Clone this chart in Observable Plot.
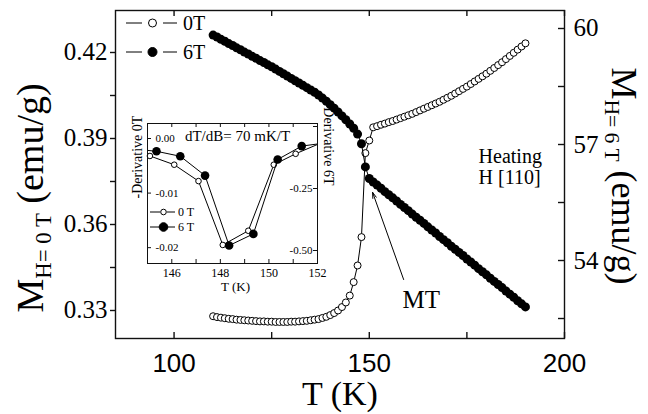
<!DOCTYPE html>
<html><head><meta charset="utf-8">
<script src="https://cdn.jsdelivr.net/npm/d3@7"></script>
<script src="https://cdn.jsdelivr.net/npm/@observablehq/plot@0.6"></script>
<style>
html,body{margin:0;padding:0;background:#fff;}
#chart{position:relative;width:648px;height:414px;overflow:hidden;background:#fff;}
#chart svg{position:absolute;left:0;top:0;}
</style></head><body><div id="chart"></div>
<script>
// ---------- DATA ----------
const temps0 = [110,111,112,113,114,115,116,117,118,119,120,121,122,123,124,125,126,127,128,129,130,131,132,133,134,135,136,137,138,139,140,141,142,143,144,145,146,147,148,149,150,151,152,153,154,155,156,157,158,159,160,161,162,163,164,165,166,167,168,169,170,171,172,173,174,175,176,177,178,179,180,181,182,183,184,185,186,187,188,189,190];
const mag0T = [0.3280,0.3277,0.3275,0.3273,0.3271,0.3270,0.3268,0.3267,0.3266,0.3265,0.3264,0.3263,0.3262,0.3262,0.3261,0.3261,0.3260,0.3260,0.3260,0.3260,0.3261,0.3261,0.3262,0.3263,0.3264,0.3266,0.3268,0.3270,0.3274,0.3278,0.3284,0.3291,0.3300,0.3312,0.3328,0.3352,0.3399,0.3457,0.3556,0.3849,0.3893,0.3939,0.3943,0.3948,0.3952,0.3957,0.3961,0.3966,0.3971,0.3976,0.3981,0.3986,0.3992,0.3998,0.4004,0.4010,0.4016,0.4022,0.4028,0.4035,0.4042,0.4049,0.4057,0.4065,0.4073,0.4081,0.4090,0.4099,0.4108,0.4117,0.4126,0.4136,0.4146,0.4156,0.4166,0.4177,0.4188,0.4199,0.4210,0.4221,0.4232];
const temps6 = [110,111,112,113,114,115,116,117,118,119,120,121,122,123,124,125,126,127,128,129,130,131,132,133,134,135,136,137,138,139,140,141,142,143,144,145,146,147,148,149,150,151,152,153,154,155,156,157,158,159,160,161,162,163,164,165,166,167,168,169,170,171,172,173,174,175,176,177,178,179,180,181,182,183,184,185,186,187,188,189,190];
const mag6T = [59.83,59.78,59.72,59.67,59.61,59.56,59.50,59.45,59.39,59.34,59.28,59.23,59.17,59.12,59.06,59.01,58.95,58.89,58.83,58.77,58.71,58.65,58.59,58.53,58.47,58.41,58.35,58.28,58.20,58.12,58.03,57.94,57.84,57.74,57.64,57.53,57.42,57.27,57.02,56.42,56.12,56.03,55.95,55.87,55.78,55.70,55.62,55.54,55.45,55.37,55.29,55.20,55.12,55.04,54.96,54.87,54.79,54.71,54.62,54.54,54.46,54.37,54.29,54.21,54.13,54.04,53.96,53.88,53.79,53.71,53.63,53.54,53.46,53.38,53.30,53.21,53.13,53.05,52.96,52.88,52.80];

const insetT0 = [144.1,145.1,146.1,147.1,148.1,149.15,150.2,151.1,152.1];
const insetD0 = [-0.0028,-0.0032,-0.0048,-0.0078,-0.0195,-0.0169,-0.0048,-0.0028,-0.0009];
const insetT6 = [144.37,145.37,146.35,147.37,148.36,149.36,150.36,151.35,152.35];
const insetD6 = [-0.090,-0.100,-0.120,-0.198,-0.480,-0.433,-0.133,-0.079,-0.066];

const xTickLabels = [100,150,200];
const xTicksAll = [100,125,150,175,200];
const leftTickLabels = [0.33,0.36,0.39,0.42];
const leftMinor = [0.345,0.375,0.405];
const rightTickLabels = [54,57,60];
const rightTicksAll = [52.5,54,55.5,57,58.5,60];
const insetXLabels = [146,148,150,152];
const insetXTicks = [145,146,147,148,149,150,151,152];
const insetLeftLabels = [0,-0.01,-0.02];
const insetRightLabels = [-0.25,-0.5];
const insetRightTicks = [0,-0.25,-0.5];

const seriesLabels = ["0T","6T"];
const insetSeriesLabels = ["0 T","6 T"];
const annotMT = [{text:"MT", t:163.3, m:0.3310}];
const annotHeating = [{text:"Heating\nH [110]", t:178.0, m:0.3740}];
const annotArrow = [{t1:158.8, m1:0.3408, t2:150.85, m2:0.3712}];

// ---------- LAYOUT ----------
const W = 648, H = 414;
const serif = "'Liberation Serif','Times New Roman',serif";
const sans = "'Liberation Sans',Arial,sans-serif";
const M = {marginLeft:115, marginRight:84, marginTop:10, marginBottom:76};
const iW = W - M.marginLeft - M.marginRight, iH = H - M.marginTop - M.marginBottom;
const IM = {marginLeft:147, marginRight:331, marginTop:123, marginBottom:151};
const jW = W - IM.marginLeft - IM.marginRight, jH = H - IM.marginTop - IM.marginBottom;
const ink = "#111";
const baseStyle = {background:"transparent", fontFamily:serif, color:"#000", overflow:"visible"};

const data0 = temps0.map((t,i)=>({t, m:mag0T[i]}));
const data6 = temps6.map((t,i)=>({t, m:mag6T[i]}));
const in0 = insetT0.map((t,i)=>({t, d:insetD0[i]}));
const in6 = insetT6.map((t,i)=>({t, d:insetD6[i]}));

const chart = document.getElementById("chart");

// main plot, 0 T (left axis)
const p1 = Plot.plot({
  width:W, height:H, ...M, style:baseStyle,
  x:{domain:[85,200]}, y:{domain:[0.32023,0.43465]},
  marks:[
    Plot.frame({stroke:ink, strokeWidth:1.4}),
    Plot.axisY(leftTickLabels, {anchor:"left", tickSize:5, tickPadding:3, tickFormat:d=>d.toFixed(2), fontSize:25, fontFamily:serif, label:null, stroke:ink, strokeWidth:1.4}),
    Plot.axisY(leftMinor, {anchor:"left", tickSize:5, tickFormat:()=> "", label:null, stroke:ink, strokeWidth:1.4}),
    Plot.axisX(xTickLabels, {anchor:"bottom", tickSize:0, tickPadding:15, fontSize:26, fontFamily:sans, label:null}),
    Plot.tickX(xTicksAll, {x:d=>d, insetTop:iH-6, stroke:ink, strokeWidth:1.4}),
    Plot.tickX(xTicksAll, {x:d=>d, insetBottom:iH-6, stroke:ink, strokeWidth:1.4}),
    Plot.line(data0, {x:"t", y:"m", stroke:"#000", strokeWidth:1}),
    Plot.dot(data0, {x:"t", y:"m", r:3.5, fill:"#fff", stroke:"#000", strokeWidth:1}),
    Plot.text(annotMT, {x:"t", y:"m", text:"text", fontSize:25, textAnchor:"middle", lineAnchor:"bottom", fontFamily:serif, fill:"#000"}),
    Plot.text(annotHeating, {x:"t", y:"m", text:"text", fontSize:20, textAnchor:"start", lineAnchor:"bottom", lineHeight:1.05, fontFamily:serif, fill:"#000"}),
    Plot.arrow(annotArrow, {x1:"t1", y1:"m1", x2:"t2", y2:"m2", headLength:9, headAngle:35, stroke:"#000", strokeWidth:1})
  ]
});
chart.appendChild(p1);

// main plot, 6 T (right axis)
const p2 = Plot.plot({
  width:W, height:H, ...M, style:baseStyle,
  x:{domain:[85,200], axis:null}, y:{domain:[51.983,60.4655]},
  marks:[
    Plot.axisY(rightTickLabels, {anchor:"right", tickSize:0, tickPadding:9, tickFormat:d=>String(d), fontSize:25, fontFamily:serif, label:null}),
    Plot.tickY(rightTicksAll, {y:d=>d, insetLeft:iW-6, stroke:ink, strokeWidth:1.4}),
    Plot.line(data6, {x:"t", y:"m", stroke:"#000", strokeWidth:1}),
    Plot.dot(data6, {x:"t", y:"m", r:4.5, fill:"#000", stroke:"none"})
  ]
});
chart.appendChild(p2);

// inset, 0 T (left axis)
const ip1 = Plot.plot({
  width:W, height:H, ...IM, style:baseStyle,
  x:{domain:[145,152]}, y:{domain:[-0.0229,0.00275]},
  marks:[
    Plot.frame({fill:"#fff", stroke:"none"}),
    Plot.axisY(insetLeftLabels, {anchor:"left", tickSize:0, tickPadding:0, dx:8, textAnchor:"start", tickFormat:d=>d.toFixed(2), fontSize:11, fontFamily:serif, label:null}),
    Plot.tickY(insetLeftLabels, {y:d=>d, insetRight:jW-4, stroke:ink}),
    Plot.axisX(insetXLabels, {anchor:"bottom", tickSize:0, tickPadding:5, fontSize:12, fontFamily:serif, label:null}),
    Plot.tickX(insetXTicks, {x:d=>d, insetTop:jH-4, stroke:ink}),
    Plot.tickX(insetXTicks, {x:d=>d, insetBottom:jH-4, stroke:ink}),
    Plot.line(in0, {x:"t", y:"d", stroke:"#000", strokeWidth:1, clip:true}),
    Plot.dot(in0, {filter:d=>d.t>=145 && d.t<=152, x:"t", y:"d", r:2.8, fill:"#fff", stroke:"#000", strokeWidth:1}),
    Plot.text(["-Derivative 0T"], {frameAnchor:"left", rotate:-90, dx:-10, dy:5, fontSize:14, fontFamily:serif, fill:"#000"}),
    Plot.text(["dT/dB= 70 mK/T"], {frameAnchor:"top", dx:5, dy:17, lineAnchor:"bottom", fontSize:15, fontFamily:serif, fill:"#000"}),
    Plot.text(["T (K)"], {frameAnchor:"bottom", dx:3, dy:27, lineAnchor:"bottom", fontSize:13, fontFamily:serif, fill:"#000"})
  ]
});
chart.appendChild(ip1);

// inset, 6 T (right axis)
const ip2 = Plot.plot({
  width:W, height:H, ...IM, style:baseStyle,
  x:{domain:[145,152], axis:null}, y:{domain:[-0.5524,0.0121]},
  marks:[
    Plot.axisY(insetRightLabels, {anchor:"right", tickSize:0, tickPadding:0, dx:-5, textAnchor:"end", tickFormat:d=>d.toFixed(2), fontSize:11, fontFamily:serif, label:null}),
    Plot.tickY(insetRightTicks, {y:d=>d, insetLeft:jW-4, stroke:ink}),
    Plot.line(in6, {x:"t", y:"d", stroke:"#000", strokeWidth:1, clip:true}),
    Plot.dot(in6, {filter:d=>d.t>=145 && d.t<=152, x:"t", y:"d", r:4.3, fill:"#000", stroke:"none"}),
    Plot.text(["Derivative 6T"], {frameAnchor:"right", rotate:90, dx:11, dy:-8, fontSize:14, fontFamily:serif, fill:"#000"}),
    Plot.frame({stroke:ink, strokeWidth:1})
  ]
});
chart.appendChild(ip2);

// titles + legends overlay
const svg = d3.select(chart).append("svg").attr("width",W).attr("height",H)
  .style("font-family",serif).style("overflow","visible");

function title(x, y, rot, sub, fs) {
  const t = svg.append("text").attr("transform",`translate(${x},${y}) rotate(${rot})`)
    .attr("text-anchor","middle").attr("font-size",fs).attr("fill","#000");
  t.append("tspan").text("M");
  t.append("tspan").attr("font-size",fs*0.6).attr("dy",fs*0.2).text(sub);
  t.append("tspan").attr("dy",-fs*0.2).text(" (emu/g)");
}
title(43, 198, -90, "H= 0 T", 38);
title(612, 176, 90, "H= 6 T", 36);
svg.append("text").attr("x",340).attr("y",405).attr("text-anchor","middle")
  .attr("font-size",34).attr("fill","#000").text("T (K)");

function legend(x0, ys, lab, l1, gap, l2, r0, r1, fs, tx) {
  lab.forEach((s,i)=>{
    const y = ys[i], g = svg.append("g");
    g.append("line").attr("x1",x0).attr("x2",x0+l1).attr("y1",y).attr("y2",y).attr("stroke","#000");
    g.append("line").attr("x1",x0+l1+gap).attr("x2",x0+l1+gap+l2).attr("y1",y).attr("y2",y).attr("stroke","#000");
    g.append("circle").attr("cx",x0+l1+gap/2).attr("cy",y).attr("r",i?r1:r0)
      .attr("fill",i?"#000":"#fff").attr("stroke","#000");
    g.append("text").attr("x",tx).attr("y",y+fs*0.33).attr("font-size",fs).attr("fill","#000").text(s);
  });
}
legend(126, [23,52], seriesLabels, 16, 21, 14, 4, 4.5, 20, 183);
legend(150, [212,227], insetSeriesLabels, 10, 7, 8, 2.8, 4.3, 12, 178);
</script></body></html>
